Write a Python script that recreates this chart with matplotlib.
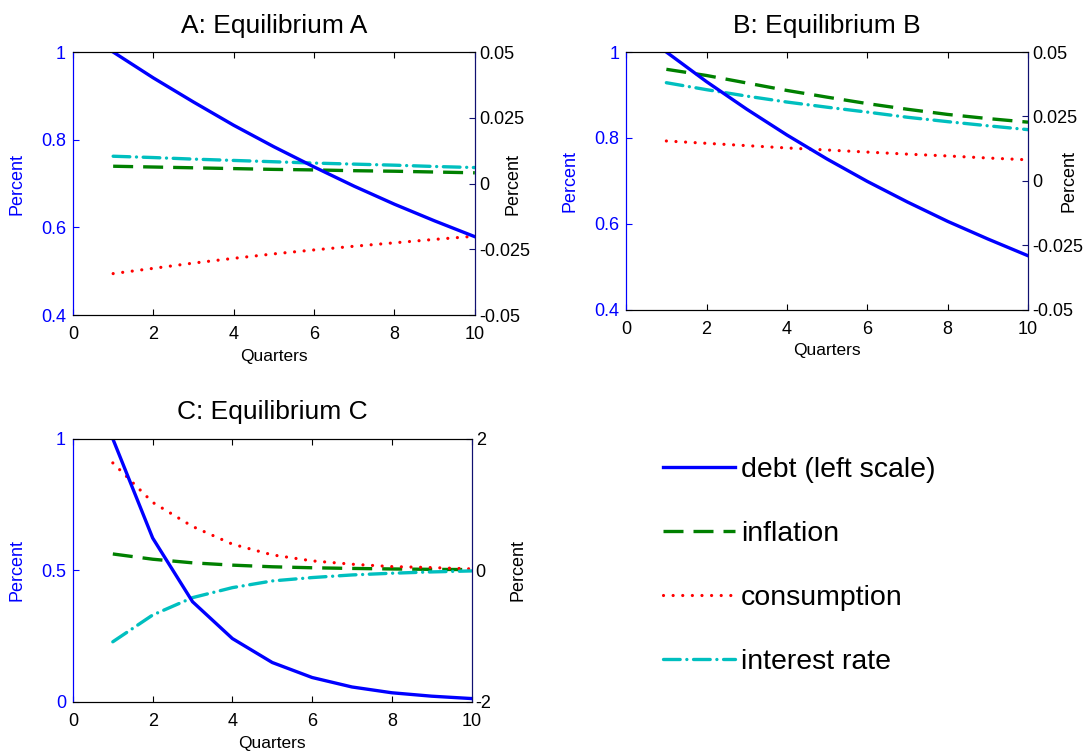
import numpy as np
import matplotlib
matplotlib.use("Agg")
import matplotlib.pyplot as plt
from matplotlib.lines import Line2D

plt.rcParams['font.family'] = ['Liberation Sans', 'DejaVu Sans']

# quarters
quarters = [1, 2, 3, 4, 5, 6, 7, 8, 9, 10]

# A: Equilibrium A
debt_a = [1.000, 0.941, 0.886, 0.833, 0.784, 0.738, 0.694, 0.653, 0.615, 0.579]
infl_a = [0.0066, 0.0063, 0.0060, 0.0057, 0.0054, 0.0052, 0.0049, 0.0047, 0.0044, 0.0041]
cons_a = [-0.0342, -0.0322, -0.0302, -0.0284, -0.0267, -0.0252, -0.0238, -0.0225, -0.0212, -0.0200]
rate_a = [0.0104, 0.0099, 0.0093, 0.0088, 0.0083, 0.0078, 0.0074, 0.0070, 0.0065, 0.0061]

# B: Equilibrium B
debt_b = [1.000, 0.931, 0.867, 0.807, 0.751, 0.699, 0.651, 0.606, 0.565, 0.526]
infl_b = [0.0433, 0.0409, 0.0380, 0.0351, 0.0325, 0.0300, 0.0278, 0.0258, 0.0242, 0.0228]
cons_b = [0.0155, 0.0146, 0.0137, 0.0128, 0.0120, 0.0112, 0.0104, 0.0097, 0.0089, 0.0082]
rate_b = [0.0381, 0.0354, 0.0329, 0.0306, 0.0286, 0.0267, 0.0247, 0.0230, 0.0214, 0.0199]

# C: Equilibrium C
debt_c = [1.000, 0.623, 0.381, 0.241, 0.150, 0.093, 0.057, 0.035, 0.022, 0.013]
infl_c = [0.25, 0.17, 0.115, 0.08, 0.055, 0.04, 0.03, 0.022, 0.016, 0.012]
cons_c = [1.634, 1.034, 0.668, 0.399, 0.236, 0.145, 0.094, 0.058, 0.043, 0.023]
rate_c = [-1.085, -0.678, -0.414, -0.262, -0.160, -0.109, -0.069, -0.043, -0.023, -0.008]

labels = ['debt (left scale)', 'inflation', 'consumption', 'interest rate']

BLUE = '#0000ff'
GREEN = '#008000'
RED = '#ff0000'
CYAN = '#00bfbf'
NAVY = '#101070'

styles = {
    'debt': dict(color=BLUE, lw=2.4, ls='-'),
    'infl': dict(color=GREEN, lw=2.4, ls=(0, (6, 3)), dash_capstyle='butt'),
    'cons': dict(color=RED, lw=2.3, ls=(0, (0.01, 3.0)), dash_capstyle='round'),
    'rate': dict(color=CYAN, lw=2.4, ls=(0, (5, 2, 0.01, 2)), dash_capstyle='round'),
}

fig = plt.figure(figsize=(10.89, 7.54), dpi=100)


def panel(rect, title, debt, infl, cons, rate, lylim, lyticks, lylabels,
          rylim, ryticks, rylabels, rlab_x):
    ax = fig.add_axes(rect)
    ax2 = ax.twinx()
    ax2.plot(quarters, infl, **styles['infl'])
    ax2.plot(quarters, cons, **styles['cons'])
    ax2.plot(quarters, rate, **styles['rate'])
    ax.plot(quarters, debt, **styles['debt'])
    ax.set_zorder(ax2.get_zorder() + 1)
    ax.patch.set_visible(False)

    ax.set_xlim(0, 10)
    ax.set_xticks([0, 2, 4, 6, 8, 10])
    ax.set_ylim(*lylim)
    ax.set_yticks(lyticks)
    ax.set_yticklabels(lylabels)
    ax2.set_ylim(*rylim)
    ax2.set_yticks(ryticks)
    ax2.set_yticklabels(rylabels)

    ax.tick_params(axis='x', direction='in', top=True, length=4, labelsize=13, pad=8)
    ax.tick_params(axis='y', direction='in', length=4, labelsize=13, colors=BLUE, pad=5)
    ax2.tick_params(axis='y', direction='in', length=4, labelsize=13, color=NAVY,
                    labelcolor='black', pad=3)
    ax2.tick_params(axis='x', top=False, bottom=False)

    for a in (ax, ax2):
        a.spines['left'].set_color(BLUE)
        a.spines['right'].set_color(NAVY)
        a.spines['top'].set_color('black')
        a.spines['bottom'].set_color('black')

    ax.set_title(title, fontsize=19, pad=14)
    ax.set_xlabel('Quarters', fontsize=12.5)
    ax.xaxis.set_label_coords(0.5, -0.13)
    ax.set_ylabel('Percent', fontsize=13, color=BLUE)
    ax.yaxis.set_label_coords(-0.119, 0.5)
    ax2.set_ylabel('Percent', fontsize=13, color='black', rotation=90)
    ax2.yaxis.set_label_coords(rlab_x, 0.5)
    return ax


panel([0.067, 0.582, 0.369, 0.349], 'A: Equilibrium A', debt_a, infl_a, cons_a, rate_a,
      (0.4, 1.0), [0.4, 0.6, 0.8, 1.0], ['0.4', '0.6', '0.8', '1'],
      (-0.05, 0.05), [-0.05, -0.025, 0, 0.025, 0.05],
      ['-0.05', '-0.025', '0', '0.025', '0.05'], 1.075)

panel([0.575, 0.589, 0.369, 0.342], 'B: Equilibrium B', debt_b, infl_b, cons_b, rate_b,
      (0.4, 1.0), [0.4, 0.6, 0.8, 1.0], ['0.4', '0.6', '0.8', '1'],
      (-0.05, 0.05), [-0.05, -0.025, 0, 0.025, 0.05],
      ['-0.05', '-0.025', '0', '0.025', '0.05'], 1.080)

panel([0.067, 0.069, 0.366, 0.349], 'C: Equilibrium C', debt_c, infl_c, cons_c, rate_c,
      (0, 1), [0, 0.5, 1], ['0', '0.5', '1'],
      (-2, 2), [-2, 0, 2], ['-2', '0', '2'], 1.095)

handles = [Line2D([], [], **styles[k]) for k in ('debt', 'infl', 'cons', 'rate')]
fig.legend(handles, labels, loc='upper left', bbox_to_anchor=(0.6088, 0.3945),
           frameon=False, fontsize=20.5, handlelength=2.53, handletextpad=0.2,
           labelspacing=1.34, borderpad=0, borderaxespad=0)

fig.savefig('out.png', dpi=100)
